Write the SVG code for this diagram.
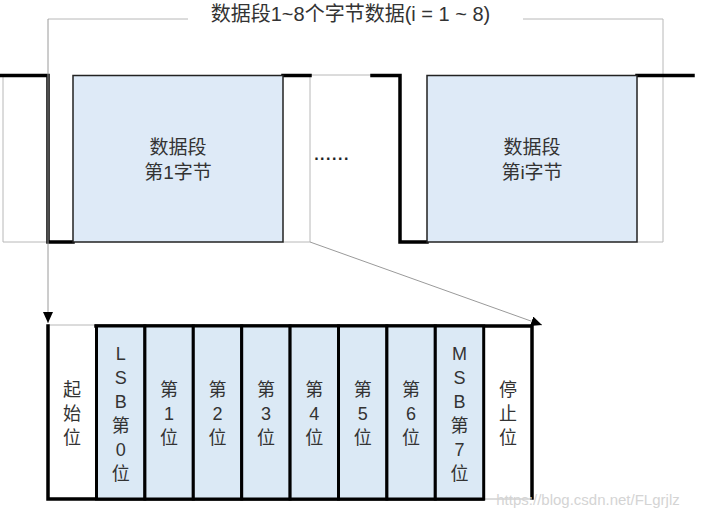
<svg xmlns="http://www.w3.org/2000/svg" width="701" height="518" viewBox="0 0 701 518">
<style>
.t{font-family:"Liberation Sans","Noto Sans CJK SC",sans-serif;fill:#333;text-anchor:middle}
.g{stroke:#b8b8b8;stroke-width:1;fill:none}
.k{stroke:#000;stroke-width:3.5;fill:none;stroke-linecap:square}
.box{fill:#deeaf7;stroke:#222;stroke-width:1.5}
.cell{fill:#dbe9f5;stroke:#000;stroke-width:3}
.c{font-size:18px}
</style>
<defs>
<marker id="ah" markerUnits="userSpaceOnUse" markerWidth="12" markerHeight="10" refX="11" refY="5" orient="auto">
<path d="M0,0 L11,5 L0,10 Z" fill="#000"/>
</marker>
</defs>
<rect width="701" height="518" fill="#fff"/>
<g id="guides">
<path class="g" d="M48,19 H188 M523,19 H663 V242 H637 M3,75 V242 H48 M283,242 H310 V75 H372 M48,325 H96"/>
</g>
<text class="t" x="350.5" y="21" font-size="20">数据段1~8个字节数据(i = 1 ~ 8)</text>
<g id="signal">
<path class="k" d="M0,75.5 H48 V242 H73"/>
<path class="k" d="M283,75.5 H310"/>
<path class="k" d="M372,75.5 H400 V242 H427"/>
<path class="k" d="M637,75.5 H693"/>
</g>
<g id="byte1">
<rect class="box" x="73" y="75.5" width="210" height="166.5"/>
<text class="t" x="178" y="154" font-size="19">数据段</text>
<text class="t" x="178" y="179" font-size="19">第1字节</text>
</g>
<g id="dots">
<text class="t" x="332" y="160" font-size="16" font-weight="bold" letter-spacing="1.5" style="fill:#222">......</text>
</g>
<g id="byteI">
<rect class="box" x="427" y="75.5" width="210" height="166.5"/>
<text class="t" x="532" y="154" font-size="19">数据段</text>
<text class="t" x="532" y="179" font-size="19">第i字节</text>
</g>
<g id="connectors">
<path d="M48,19 V323" stroke="#9a9a9a" stroke-width="1" fill="none" marker-end="url(#ah)"/>
<path d="M310,242 L542,325" stroke="#9a9a9a" stroke-width="1" fill="none" marker-end="url(#ah)"/>
</g>
<g id="frame">
<path class="k" d="M48,326 V499 H483"/>
<path class="k" d="M96,326 H532 V498"/>
<path class="g" d="M483,499 H532"/>
</g>
<g id="start">
<text class="t c"><tspan x="72" y="395.5">起</tspan><tspan x="72" y="419.5">始</tspan><tspan x="72" y="443.5">位</tspan></text>
</g>
<g id="bit0">
<rect class="cell" x="96.5" y="326" width="48.4" height="173"/>
<text class="t c"><tspan x="120.7" y="359.5">L</tspan><tspan x="120.7" y="383.5">S</tspan><tspan x="120.7" y="407.5">B</tspan><tspan x="120.7" y="431.5">第</tspan><tspan x="120.7" y="455.5">0</tspan><tspan x="120.7" y="479.5">位</tspan></text>
</g>
<g id="bit1">
<rect class="cell" x="144.9" y="326" width="48.4" height="173"/>
<text class="t c"><tspan x="169.1" y="395.5">第</tspan><tspan x="169.1" y="419.5">1</tspan><tspan x="169.1" y="443.5">位</tspan></text>
</g>
<g id="bit2">
<rect class="cell" x="193.3" y="326" width="48.4" height="173"/>
<text class="t c"><tspan x="217.5" y="395.5">第</tspan><tspan x="217.5" y="419.5">2</tspan><tspan x="217.5" y="443.5">位</tspan></text>
</g>
<g id="bit3">
<rect class="cell" x="241.7" y="326" width="48.4" height="173"/>
<text class="t c"><tspan x="265.9" y="395.5">第</tspan><tspan x="265.9" y="419.5">3</tspan><tspan x="265.9" y="443.5">位</tspan></text>
</g>
<g id="bit4">
<rect class="cell" x="290.1" y="326" width="48.4" height="173"/>
<text class="t c"><tspan x="314.3" y="395.5">第</tspan><tspan x="314.3" y="419.5">4</tspan><tspan x="314.3" y="443.5">位</tspan></text>
</g>
<g id="bit5">
<rect class="cell" x="338.5" y="326" width="48.4" height="173"/>
<text class="t c"><tspan x="362.7" y="395.5">第</tspan><tspan x="362.7" y="419.5">5</tspan><tspan x="362.7" y="443.5">位</tspan></text>
</g>
<g id="bit6">
<rect class="cell" x="386.9" y="326" width="48.4" height="173"/>
<text class="t c"><tspan x="411.1" y="395.5">第</tspan><tspan x="411.1" y="419.5">6</tspan><tspan x="411.1" y="443.5">位</tspan></text>
</g>
<g id="bit7">
<rect class="cell" x="435.3" y="326" width="48.4" height="173"/>
<text class="t c"><tspan x="459.5" y="359.5">M</tspan><tspan x="459.5" y="383.5">S</tspan><tspan x="459.5" y="407.5">B</tspan><tspan x="459.5" y="431.5">第</tspan><tspan x="459.5" y="455.5">7</tspan><tspan x="459.5" y="479.5">位</tspan></text>
</g>
<g id="stop">
<text class="t c"><tspan x="508" y="395.5">停</tspan><tspan x="508" y="419.5">止</tspan><tspan x="508" y="443.5">位</tspan></text>
</g>
<text x="588" y="505" font-family="Liberation Sans, sans-serif" font-size="15" fill="#d4d4d4" text-anchor="middle">https://blog.csdn.net/FLgrjlz</text>
</svg>
